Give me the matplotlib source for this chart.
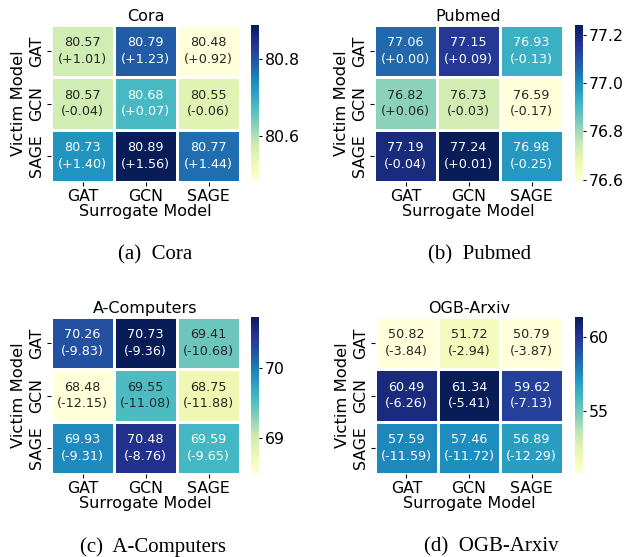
import matplotlib
matplotlib.use("Agg")
import matplotlib.pyplot as plt
import numpy as np
import seaborn as sns

W, H = 626, 557

models = ["GAT", "GCN", "SAGE"]

cora_acc = [[80.57, 80.79, 80.48],
            [80.57, 80.68, 80.55],
            [80.73, 80.89, 80.77]]
cora_delta = [["+1.01", "+1.23", "+0.92"],
              ["-0.04", "+0.07", "-0.06"],
              ["+1.40", "+1.56", "+1.44"]]

pubmed_acc = [[77.06, 77.15, 76.93],
              [76.82, 76.73, 76.59],
              [77.19, 77.24, 76.98]]
pubmed_delta = [["+0.00", "+0.09", "-0.13"],
                ["+0.06", "-0.03", "-0.17"],
                ["-0.04", "+0.01", "-0.25"]]

comp_acc = [[70.26, 70.73, 69.41],
            [68.48, 69.55, 68.75],
            [69.93, 70.48, 69.59]]
comp_delta = [["-9.83", "-9.36", "-10.68"],
              ["-12.15", "-11.08", "-11.88"],
              ["-9.31", "-8.76", "-9.65"]]

arxiv_acc = [[50.82, 51.72, 50.79],
             [60.49, 61.34, 59.62],
             [57.59, 57.46, 56.89]]
arxiv_delta = [["-3.84", "-2.94", "-3.87"],
               ["-6.26", "-5.41", "-7.13"],
               ["-11.59", "-11.72", "-12.29"]]

cbar_ticks = {
    "Cora": [80.6, 80.8],
    "Pubmed": [76.6, 76.8, 77.0, 77.2],
    "A-Computers": [69, 70],
    "OGB-Arxiv": [55, 60],
}

# (title, acc, delta, heat box px, cbar box px, caption, caption x, caption y)
panels = [
    ("Cora", cora_acc, cora_delta, (51, 25, 240, 182), (251, 25, 259, 182),
     "(a)  Cora", 155, 255),
    ("Pubmed", pubmed_acc, pubmed_delta, (374, 25, 563, 182), (575, 25, 583, 182),
     "(b)  Pubmed", 480, 255),
    ("A-Computers", comp_acc, comp_delta, (51, 317, 240, 474), (251, 317, 259, 474),
     "(c)  A-Computers", 153, 547),
    ("OGB-Arxiv", arxiv_acc, arxiv_delta, (375, 317, 563, 474), (575, 317, 583, 474),
     "(d)  OGB-Arxiv", 491, 547),
]


def px_axes(fig, box):
    x0, y0, x1, y1 = box
    return fig.add_axes([x0 / W, 1 - y1 / H, (x1 - x0) / W, (y1 - y0) / H])


fig = plt.figure(figsize=(W / 100, H / 100), dpi=100)

for title, acc, delta, hbox, cbox, cap, cx, cy in panels:
    ax = px_axes(fig, hbox)
    cax = px_axes(fig, cbox)
    acc = np.array(acc)
    labels = np.array([[f"{acc[i, j]:.2f}\n({delta[i][j]})" for j in range(3)]
                       for i in range(3)])
    sns.heatmap(acc, ax=ax, cbar_ax=cax, cmap="YlGnBu", annot=labels, fmt="",
                annot_kws={"fontsize": 9.2, "linespacing": 1.35},
                linewidths=0.8, linecolor="white",
                xticklabels=models, yticklabels=models)
    ax.set_title(title, fontsize=11.5, pad=3)
    ax.set_xlabel("Surrogate Model", fontsize=11.5, labelpad=0)
    ax.set_ylabel("Victim Model", fontsize=11.8, labelpad=2)
    ax.tick_params(axis="x", labelsize=11.3, rotation=0, length=3, pad=2)
    ax.tick_params(axis="y", labelsize=11.3, length=3, pad=2)
    for t in ax.get_yticklabels():
        t.set_rotation(90)
        t.set_va("center")
    cax.set_yticks(cbar_ticks[title])
    cax.tick_params(labelsize=11.3, length=2.5, pad=1.5)
    fig.text(cx / W, 1 - cy / H, cap, ha="center", va="center",
             fontsize=15, family="Liberation Serif")

fig.savefig("out.png", dpi=100)
